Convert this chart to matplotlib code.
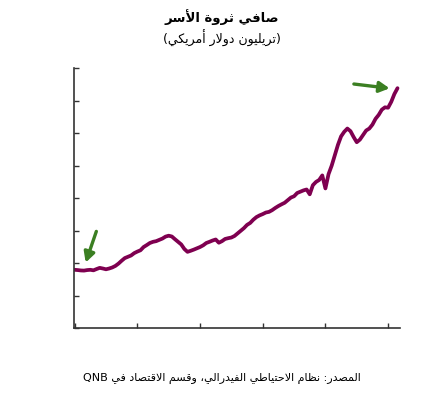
#!/usr/bin/env python3
"""US household net worth, quarterly, trillion USD (Arabic labels)."""
import numpy as np
import matplotlib
matplotlib.use("Agg")
import matplotlib.pyplot as plt

TITLE = "صافي ثروة الأسر"
SUBTITLE = "(تريليون دولار أمريكي)"
SOURCE = "المصدر: نظام الاحتياطي الفيدرالي، وقسم الاقتصاد في QNB"

# quarters 2000Q1 .. 2025Q4 as fractional years
QUARTERS = np.arange(2000, 2025.76, 0.25)
NET_WORTH = [
    45.0, 44.8, 44.5, 44.4, 44.8, 45.0, 44.6, 45.6,
    46.5, 46.0, 45.4, 46.0, 46.8, 48.0, 49.8, 52.0,
    54.0, 55.0, 56.0, 57.8, 59.0, 60.0, 62.5, 64.0,
    65.6, 66.5, 67.0, 68.0, 69.0, 70.5, 71.2, 70.6,
    68.5, 66.5, 64.5, 61.0, 58.8, 59.6, 60.5, 61.5,
    62.5, 63.8, 65.6, 66.5, 67.5, 68.3, 65.8, 67.0,
    68.7, 69.3, 69.8, 71.0, 73.0, 75.0, 77.0, 79.5,
    81.0, 83.5, 85.5, 86.8, 87.8, 89.0, 89.5, 90.8,
    92.5, 94.0, 95.3, 96.5, 98.5, 100.5, 101.5, 104.0,
    105.0, 106.0, 106.7, 103.0, 110.0, 112.5, 114.0, 117.5,
    107.5, 118.5, 125.0, 133.0, 141.0, 147.5, 151.0, 153.5,
    151.5, 147.0, 143.0, 145.0, 148.5, 152.0, 153.5, 156.5,
    161.0, 164.0, 168.0, 169.8, 169.5, 174.0, 180.0, 184.5,
]
X_TICKS = [2000, 2005, 2010, 2015, 2020, 2025]
Y_TICKS = [0, 25, 50, 75, 100, 125, 150, 175, 200]

# annotation arrows: (start, tip) in data units
ARROW_START = ((2001.73, 74.5), (2000.88, 50.6))
ARROW_END = ((2022.27, 187.7), (2025.12, 184.4))

LINE_COLOR = "#7f0050"
ARROW_COLOR = "#3b7f22"

# ---- minimal Arabic shaping (matplotlib has no complex text layout) ----
# char -> (isolated form, dual-joining)
FORMS = {
    "ا": (0xFE8D, False), "أ": (0xFE83, False), "ب": (0xFE8F, True),
    "ة": (0xFE93, False), "ت": (0xFE95, True), "ث": (0xFE99, True),
    "ح": (0xFEA1, True), "د": (0xFEA9, False), "ر": (0xFEAD, False),
    "س": (0xFEB1, True), "ص": (0xFEB9, True), "ط": (0xFEC1, True),
    "ظ": (0xFEC5, True), "ع": (0xFEC9, True), "ف": (0xFED1, True),
    "ق": (0xFED5, True), "ك": (0xFED9, True), "ل": (0xFEDD, True),
    "م": (0xFEE1, True), "ن": (0xFEE5, True), "و": (0xFEED, False),
    "ي": (0xFEF1, True),
    "\uE001": (0xFEFB, False),  # lam-alef
    "\uE002": (0xFEF7, False),  # lam-alef hamza
}


def shape(text):
    text = text.replace("لا", "\uE001").replace("لأ", "\uE002")
    out = []
    for i, ch in enumerate(text):
        if ch not in FORMS:
            out.append(ch)
            continue
        base, dual = FORMS[ch]
        prev = text[i - 1] if i > 0 else ""
        nxt = text[i + 1] if i + 1 < len(text) else ""
        join_prev = prev in FORMS and FORMS[prev][1]
        join_next = dual and nxt in FORMS
        if join_prev and join_next:
            code = base + 3
        elif join_prev:
            code = base + 1
        elif join_next:
            code = base + 2
        else:
            code = base
        out.append(chr(code))
    vis = "".join(out)[::-1]
    vis = vis.translate(str.maketrans("()", ")("))
    # put latin runs back in reading order
    words = vis.split(" ")
    words = [w[::-1] if w[::-1].isascii() and w.isalpha() else w for w in words]
    return " ".join(words)


plt.rcParams["font.family"] = ["DejaVu Sans"]

fig = plt.figure(figsize=(4.22, 4.0), dpi=100)
ax = fig.add_axes([0.1754, 0.179, 0.7725, 0.651])

ax.plot(QUARTERS, NET_WORTH, color=LINE_COLOR, lw=2.7, solid_capstyle="round")

for (s, t) in (ARROW_START, ARROW_END):
    ax.annotate("", xy=t, xytext=s,
                arrowprops=dict(arrowstyle="-|>,head_length=0.6,head_width=0.32",
                                color=ARROW_COLOR, lw=2.4, shrinkA=0, shrinkB=0))

ax.set_xlim(1999.95, 2025.95)
ax.set_ylim(0, 200)
ax.set_xticks(X_TICKS)
ax.set_yticks(Y_TICKS)
ax.tick_params(direction="in", length=3.5, width=1.0, color="#333333",
               labelbottom=False, labelleft=False)
for side in ("top", "right"):
    ax.spines[side].set_visible(False)
for side in ("left", "bottom"):
    ax.spines[side].set_color("#333333")
    ax.spines[side].set_linewidth(1.2)

fig.text(0.526, 0.957, shape(TITLE), ha="center", va="center",
         fontsize=9.5, fontweight="bold")
fig.text(0.526, 0.905, shape(SUBTITLE), ha="center", va="center", fontsize=9)
fig.text(0.526, 0.055, shape(SOURCE), ha="center", va="center", fontsize=8)

fig.savefig("out.png", dpi=100)
